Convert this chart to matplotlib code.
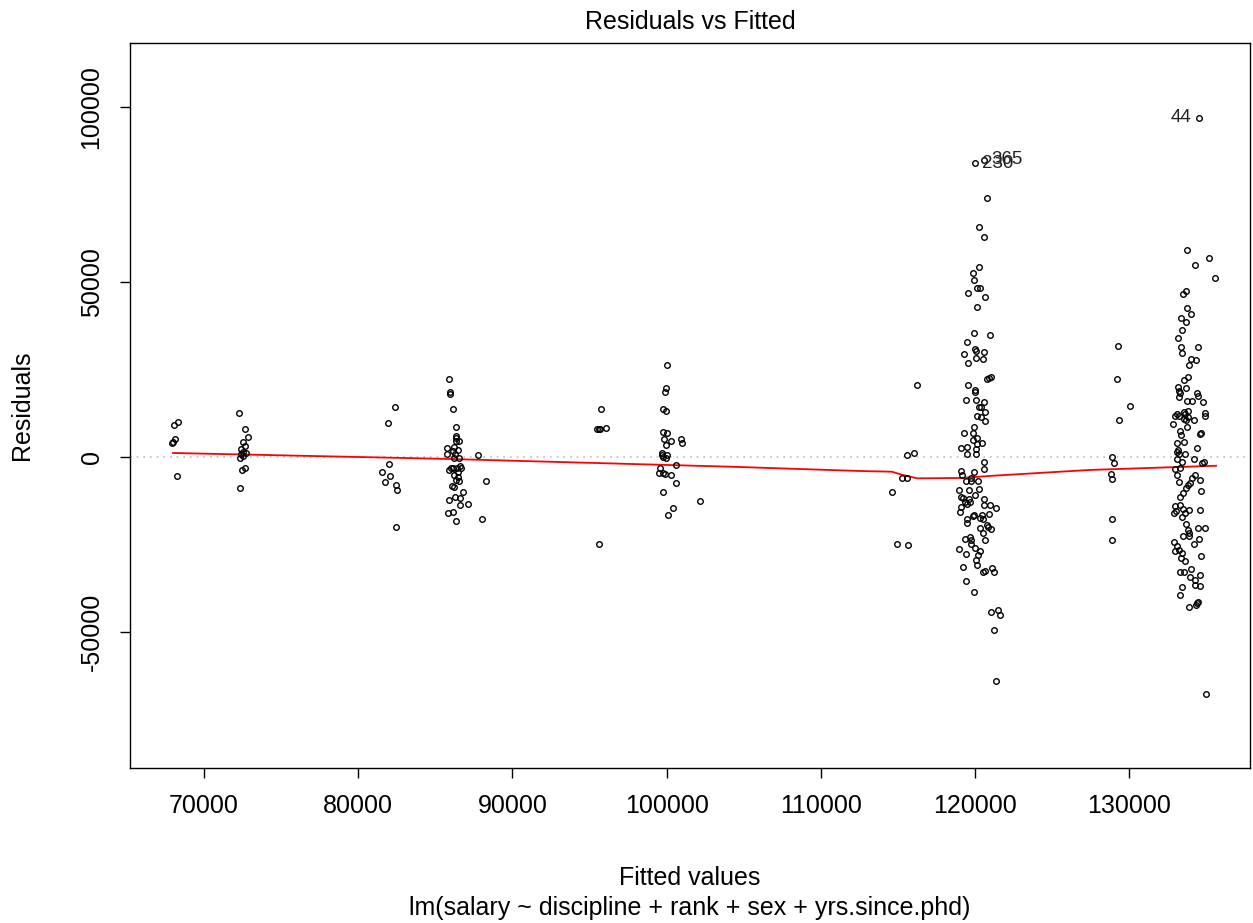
import matplotlib
matplotlib.use("Agg")
import matplotlib.pyplot as plt

plt.rcParams['font.family'] = ['Liberation Sans', 'DejaVu Sans']

# fitted values / residuals, cluster by cluster
fit_a = [68330, 68070, 68120, 67970, 67905, 68250]
res_a = [9900, 9200, 5100, 4300, 4100, -5500]

fit_b = [72270, 72660, 72830, 72530, 72660, 72380, 72550, 72700, 72400, 72510,
         72350, 72660, 72460, 72335]
res_b = [12500, 8100, 5700, 4300, 3100, 2200, 1500, 1100, 900, 400,
         -200, -3200, -3600, -8800]

fit_c = [82370, 81930, 82000, 81540, 82060, 81720, 82430, 82520, 82430]
res_c = [14400, 9800, -2100, -4400, -5400, -7200, -8100, -9500, -19900]

fit_d = [85890, 85950, 85950, 86130, 86320, 86340, 86365, 86540, 86320, 85760,
         86210, 86490, 86150, 85760, 86280, 86560, 87770, 86190, 86000, 85890,
         86130, 86390, 86600, 86650, 86190, 86490, 86470, 86320, 86560, 86060,
         86210, 88270, 86780, 86280, 86580, 85890, 86580, 87120, 86170, 85820,
         88010, 86340]
res_d = [22300, 18700, 18100, 13700, 8500, 6100, 5500, 4600, 4600, 2700,
         2900, 2100, 1800, 900, 1000, -400, 500, -400, -3200, -3700,
         -3200, -3200, -2500, -3000, -5000, -4400, -5600, -6700, -7000, -8200,
         -8600, -6800, -10100, -11300, -11800, -12300, -13700, -13400, -15700, -16100,
         -17700, -18300]

fit_e = [95730, 95490, 95600, 95680, 96050, 95620]
res_e = [13700, 7900, 7900, 7900, 8300, -24900]

fit_f = [100030, 99960, 99900, 99770, 99960, 99770, 100050, 99830, 100270, 100940,
         101000, 99960, 99730, 99680, 99790, 100050, 99960, 99580, 100590, 99530,
         99750, 99900, 100270, 100630, 99790, 102170, 100400, 100070]
res_f = [26300, 19600, 18500, 13600, 13100, 7100, 7000, 5200, 4600, 5100,
         4100, 3400, 1200, 600, 100, 600, -300, -3000, -2400, -4500,
         -4500, -4900, -5000, -7500, -9900, -12500, -14500, -16500]

fit_g = [116260, 115590, 116060, 115270, 115590, 114620, 114920, 115660]
res_g = [20500, 600, 1200, -6000, -6000, -9900, -24900, -25100]

fit_h = [120000, 120600, 120780, 120240, 120610, 120240, 119870, 119940, 120150, 120350,
         119570, 120670, 120110, 119940, 120970, 119500, 120020, 120070, 120560, 119270,
         120040, 120540, 119570, 121020, 120910, 120800, 119570, 119980, 120020, 119440,
         120040, 120610, 120260, 120410, 120630, 120110, 120370, 120670, 119910, 119310,
         119850, 120110, 119890, 120480, 120150, 119070, 119460, 120090, 119500, 120090,
         120560, 120610, 119090, 119160, 119940, 119760, 119420, 120170, 119720, 120240,
         118960, 119630, 120000, 119070, 119240, 120580, 119590, 119370, 119700, 120970,
         120610, 121390, 119500, 119090, 119030, 119960, 119850, 120910, 119460, 120460,
         120540, 120350, 119500, 120760, 120350, 120840, 121040, 120500, 119370, 119680,
         119720, 120670, 119720, 120000, 118960, 120300, 120170, 119440, 120040, 120110,
         119200, 121100, 120630, 120540, 121210, 119400, 119940, 121040, 121520, 121650,
         121230, 121340]
res_h = [84000, 85000, 73900, 65700, 63000, 54200, 52500, 50500, 48200, 48200,
         47000, 45800, 43000, 35400, 34800, 33000, 30800, 30400, 30000, 29300,
         28200, 28100, 27000, 22900, 22700, 22300, 20500, 19100, 18500, 16400,
         16400, 15600, 14300, 14300, 13000, 11700, 11400, 10300, 8700, 6800,
         7000, 5500, 4900, 4100, 3600, 2700, 2900, 2300, 1000, 900,
         -1400, -3400, -3900, -5100, -4400, -5900, -7000, -6900, -6900, -9100,
         -9400, -9400, -11000, -11400, -11600, -11900, -12000, -12800, -12800, -13800,
         -13600, -14500, -13500, -14400, -15600, -16600, -17000, -16200, -17700, -16700,
         -17600, -17500, -18800, -19300, -20300, -19900, -20700, -21800, -23500, -22800,
         -23700, -23800, -25000, -25900, -26300, -26800, -28000, -27800, -29400, -30900,
         -31300, -31800, -32500, -33000, -32900, -35400, -38600, -44200, -43700, -45200,
         -49300, -63900]

fit_i = [129300, 129230, 130030, 129340, 128910, 129040, 128840, 128860, 128860, 128910]
res_i = [31600, 22400, 14500, 10500, -100, -1800, -4800, -6200, -17600, -23800]

fit_j = [134500, 133750, 135150, 134250, 135590, 133710, 133510, 133750, 133990, 133380,
         133710, 133450, 133140, 133340, 134480, 133400, 134010, 134310, 133880, 133810,
         133530, 133170, 133710, 133250, 133320, 134380, 134480, 133230, 133770, 134070,
         134810, 133810, 133580, 133120, 132990, 133600, 133250, 134920, 134940, 133790,
         133530, 133710, 134200, 132840, 133730, 133300, 134660, 134610, 133340, 133550,
         133080, 134420, 133190, 133120, 133250, 133620, 133100, 133420, 134200, 134830,
         134700, 132970, 133080, 133300, 134250, 134100, 134570, 133940, 133810, 133210,
         133680, 134680, 133510, 133320, 132950, 133300, 133470, 132910, 133040, 133880,
         133620, 133400, 134590, 133710, 133840, 133880, 133490, 133860, 134480, 134940,
         134550, 134180, 132910, 133120, 133210, 132970, 133400, 134680, 133360, 133640,
         133300, 133530, 134010, 133920, 134610, 134290, 134290, 134610, 133450, 133320,
         134460, 134380, 134310, 133880, 134980]
res_j = [97000, 59100, 57000, 55000, 51200, 47400, 46500, 42600, 40900, 39600,
         38500, 36400, 33900, 31400, 31300, 29600, 28100, 27700, 26300, 23000,
         22100, 20100, 19800, 19000, 18200, 18200, 17400, 17200, 16100, 16100,
         15600, 13200, 12900, 12400, 11800, 12200, 11800, 12700, 11600, 11300,
         11000, 10700, 10700, 9400, 8500, 7500, 7000, 6600, 6200, 4200,
         3900, 2700, 2100, 1500, 1000, 900, -600, -1300, -500, -1300,
         -1800, -3500, -5000, -3000, -5000, -6100, -6600, -7300, -8000, -7100,
         -9000, -9700, -10400, -11500, -13900, -13700, -14800, -16100, -15300, -15100,
         -16100, -17100, -15200, -19200, -20900, -21600, -22500, -22500, -20200, -20200,
         -23500, -24800, -24400, -25500, -26600, -27000, -27500, -28300, -29000, -29600,
         -32800, -33000, -32100, -34200, -33700, -35100, -36700, -36900, -37200, -39300,
         -41300, -41800, -42400, -42900, -67800]

# lowess smoother (red line)
smooth_x = [67990, 85950, 104110, 112540, 114600, 115330, 116240, 119030, 121170,
            125510, 127460, 135630]
smooth_y = [1150, -570, -2770, -4000, -4200, -5150, -6100, -6000, -5350,
            -4200, -3700, -2500]

# labelled points: (label, fitted, residual, side)
ids = [("230", 120000, 84000, "right"), ("365", 120600, 85000, "right"),
       ("44", 134500, 97000, "left")]

fitted = fit_a + fit_b + fit_c + fit_d + fit_e + fit_f + fit_g + fit_h + fit_i + fit_j
resid = res_a + res_b + res_c + res_d + res_e + res_f + res_g + res_h + res_i + res_j

fig = plt.figure(figsize=(12.53, 9.23), dpi=100)
ax = fig.add_axes([130 / 1253, 1 - 768 / 923, 1120 / 1253, 725 / 923])

ax.axhline(0, color='#bebebe', lw=1.2, ls=(0, (1, 3)), zorder=1)
ax.plot(fitted, resid, 'o', mfc='none', mec='black', ms=4.0, mew=1.0, zorder=3)
ax.plot(smooth_x, smooth_y, color='red', lw=1.3, zorder=2)

for lab, fx, ry, side in ids:
    if side == "right":
        ax.annotate(lab, (fx, ry), xytext=(5, 0), textcoords='offset points',
                    ha='left', va='center', fontsize=13.5, color='#222222')
    else:
        ax.annotate(lab, (fx, ry), xytext=(-5, 0), textcoords='offset points',
                    ha='right', va='center', fontsize=13.5, color='#222222')

ax.set_xlim(65200, 137830)
ax.set_ylim(-88860, 118290)
ax.set_xticks([70000, 80000, 90000, 100000, 110000, 120000, 130000])
ax.set_yticks([-50000, 0, 50000, 100000])
ax.set_xticklabels(['70000', '80000', '90000', '100000', '110000', '120000', '130000'])
ax.set_yticklabels(['-50000', '0', '50000', '100000'], rotation=90, va='center')
ax.tick_params(length=7, width=1, labelsize=18, pad=12)
for s in ax.spines.values():
    s.set_linewidth(1.0)

fig.text(0.5 * (130 + 1250) / 1253, 1 - 22 / 923, 'Residuals vs Fitted',
         ha='center', va='center', fontsize=18)
fig.text(0.5 * (130 + 1250) / 1253, 1 - 878 / 923, 'Fitted values',
         ha='center', va='center', fontsize=18)
fig.text(0.5 * (130 + 1250) / 1253, 1 - 908 / 923,
         'lm(salary ~ discipline + rank + sex + yrs.since.phd)',
         ha='center', va='center', fontsize=18)
fig.text(22 / 1253, 1 - (43 + 768) / 2 / 923, 'Residuals', rotation=90,
         ha='center', va='center', fontsize=18)

fig.savefig('out.png', dpi=100)
